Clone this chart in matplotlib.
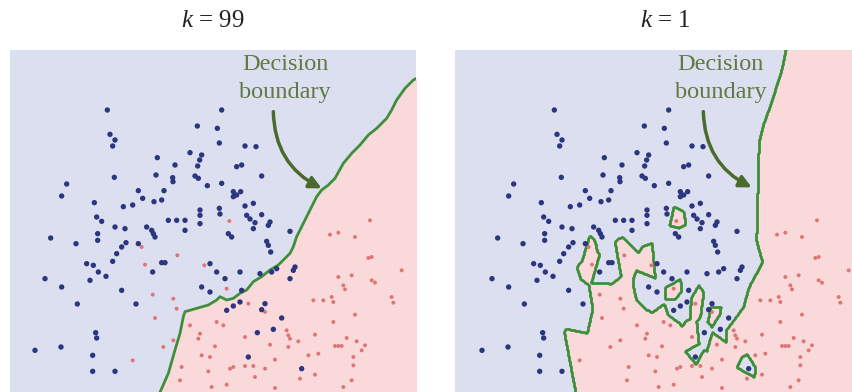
import numpy as np
import matplotlib.pyplot as plt

plt.rcParams['font.family'] = ['Liberation Serif', 'DejaVu Serif']
plt.rcParams['mathtext.fontset'] = 'custom'
plt.rcParams['mathtext.it'] = 'Liberation Serif:italic'
plt.rcParams['mathtext.rm'] = 'Liberation Serif'

blue_x = [322, 665, 592, 652, 330, 345, 338, 658, 735, 768, 472, 570, 605, 599, 593,
          525, 710, 725, 468, 343, 518, 519, 585, 595, 785, 622, 665, 200, 185, 415,
          428, 398, 370, 492, 485, 462, 700, 710, 722, 700, 283, 760, 735, 600, 600,
          658, 660, 740, 785, 290, 305, 505, 530, 555, 555, 600, 750, 765, 810, 805,
          760, 345, 375, 440, 455, 460, 465, 293, 293, 152, 228, 685, 695, 870, 378,
          365, 350, 338, 415, 800, 805, 812, 260, 280, 295, 318, 485, 495, 458, 630,
          650, 675, 720, 780, 815, 830, 885, 880, 870, 135, 270, 185, 365, 605, 630,
          725, 232, 408, 680, 700, 720, 785, 795, 845, 820, 772, 287, 290, 105, 183,
          278, 278, 345, 745, 905]
blue_y = [210, 210, 258, 265, 283, 300, 318, 309, 318, 320, 353, 338, 345, 360, 378,
          375, 380, 375, 405, 412, 413, 425, 408, 415, 408, 437, 430, 432, 468, 452,
          475, 495, 500, 452, 480, 485, 455, 465, 455, 470, 488, 490, 498, 510, 526,
          505, 522, 526, 524, 531, 544, 541, 541, 541, 571, 551, 537, 548, 546, 556,
          566, 561, 566, 561, 571, 581, 591, 581, 601, 594, 611, 581, 591, 574, 608,
          621, 641, 664, 611, 604, 616, 636, 671, 676, 696, 709, 668, 668, 696, 671,
          696, 716, 696, 701, 696, 686, 681, 691, 716, 716, 721, 741, 751, 741, 756,
          751, 792, 792, 811, 798, 786, 809, 791, 834, 868, 878, 878, 894, 931, 921,
          946, 994, 994, 951, 986]

red_x = [688, 425, 532, 435, 613, 680, 458, 520, 530, 465, 570, 600, 595, 490, 398,
         520, 545, 540, 1110, 990, 1015, 1065, 1105, 1115, 1205, 1015, 1055, 1030, 1035,
         1115, 1125, 940, 970, 995, 1000, 1175, 1180, 1065, 1000, 945, 1040, 1070, 1095,
         1085, 1005, 1015, 1025, 895, 860, 865, 870, 810, 735, 650, 670, 745, 795, 1060,
         1060, 925, 955, 945, 865, 825, 795, 645, 630, 605, 690, 700, 735, 760, 625, 765,
         680, 635, 825, 900, 1055, 1030]
red_y = [543, 621, 646, 674, 676, 746, 764, 776, 806, 834, 856, 881, 896, 921, 961,
         901, 981, 1021, 541, 584, 578, 591, 654, 651, 691, 711, 706, 736, 748,
         721, 728, 781, 781, 771, 786, 771, 788, 824, 846, 884, 894, 904, 916,
         931, 918, 918, 918, 904, 871, 886, 896, 914, 891, 846, 856, 791, 816, 951,
         976, 946, 941, 1004, 921, 959, 986, 919, 951, 946, 986, 981, 978, 978, 994, 1011,
         1034, 1041, 1044, 1016, 1021, 1041]

# k = 99 boundary as it appears in the picture, bottom to top
b99_x = [476, 505, 525, 540, 550, 555, 590, 625, 650, 660, 680, 700, 720, 740, 760,
         785, 810, 835, 855, 870, 880, 890, 905, 925, 950, 965, 985, 1005, 1030, 1055,
         1080, 1105, 1130, 1160, 1175, 1190, 1215, 1240, 1255]
b99_y = [1066, 1000, 930, 880, 830, 815, 805, 795, 780, 770, 780, 775, 760, 750, 725,
         710, 690, 675, 655, 640, 620, 590, 560, 520, 470, 450, 435, 415, 370, 340,
         315, 285, 265, 235, 210, 180, 145, 120, 112]

titles = ['$k$ = 99', '$k$ = 1']
k_right = 1

# the second feature is on a wider scale than the first, so its gaps weigh less
y_weight = 0.55

blue_bg = '#dcdff0'
red_bg = '#f9d9d9'
line_green = '#3f8f3a'
note_green = '#5f7a42'


def knn_share(gx, gy, k):
    px = np.r_[blue_x, red_x].astype(float)
    py = np.r_[blue_y, red_y].astype(float)
    lab = np.r_[np.zeros(len(blue_x)), np.ones(len(red_x))]
    out = np.zeros(gx.shape)
    for i in range(gx.shape[0]):
        d = (gx[i][:, None] - px) ** 2 + (y_weight * (gy[i][:, None] - py)) ** 2
        idx = np.argpartition(d, k - 1, axis=1)[:, :k]
        out[i] = lab[idx].mean(axis=1)
    return out


fig = plt.figure(figsize=(8.52, 3.92), dpi=100)
ax_l = fig.add_axes([10 / 852, 0, 406 / 852, 342 / 392])
ax_r = fig.add_axes([455 / 852, 0, 397 / 852, 342 / 392])

# left: smooth boundary
ax_l.set_facecolor(blue_bg)
ax_l.fill_betweenx(b99_y, b99_x, 1300, color=red_bg, lw=0)
ax_l.plot(b99_x, b99_y, color=line_green, lw=2)

# right: 1-nearest-neighbour boundary
gx, gy = np.meshgrid(np.arange(0, 1260, 3.0), np.arange(0, 1080, 3.0))
share = knn_share(gx, gy, k_right)
ax_r.contourf(gx, gy, share, levels=[-0.1, 0.5, 1.1], colors=[blue_bg, red_bg])
ax_r.contour(gx, gy, share, levels=[0.5], colors=line_green, linewidths=2)

panels = [(ax_l, (30, 1248), (855, 115), (820, 215), (965, 445), 213),
          (ax_r, (24, 1215), (821, 115), (769, 215), (914, 442), 665)]

for (ax, xl, txt, a0, a1, tx), title in zip(panels, titles):
    ax.scatter(red_x, red_y, s=8, color='#e07474', edgecolors='none', zorder=3)
    ax.scatter(blue_x, blue_y, s=15, color='#2c357f', edgecolors='none', zorder=4)
    ax.text(txt[0], txt[1], 'Decision\nboundary', ha='center', va='center',
            fontsize=17.5, color=note_green, linespacing=1.45, zorder=5)
    ax.annotate('', xy=a1, xytext=a0,
                arrowprops=dict(arrowstyle='-|>', connectionstyle='arc3,rad=0.3',
                                color='#4c6a2c', lw=2.5, mutation_scale=18,
                                shrinkA=0, shrinkB=0), zorder=5)
    ax.set_xlim(*xl)
    ax.set_ylim(1056, 30)
    ax.set_xticks([])
    ax.set_yticks([])
    for sp in ax.spines.values():
        sp.set_visible(False)
    fig.text(tx / 852, 1 - 21 / 392, title, ha='center', va='center',
             fontsize=18, color='#222222')

fig.savefig('out.png', dpi=100)
